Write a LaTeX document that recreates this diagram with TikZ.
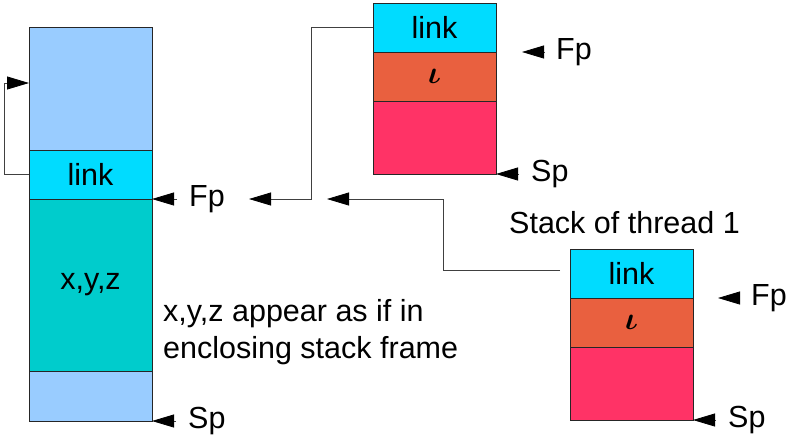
\RequirePackage{fix-cm}
\documentclass[tikz,border=0pt]{standalone}
\usepackage{fontspec}
\setmainfont{Liberation Sans}
\usepackage{tikz}
\usepackage{xcolor}
\usepackage{amsmath}
\usepackage{amsbsy}
\usetikzlibrary{positioning}
\usetikzlibrary{arrows.meta}
\definecolor{frameblue}{HTML}{99CCFF}
\definecolor{linkcyan}{HTML}{00DCFF}
\definecolor{varsteal}{HTML}{00CCCC}
\definecolor{iotaorange}{HTML}{E9603F}
\definecolor{restpink}{HTML}{FF3366}
\tikzstyle{every node}=[font=\fontsize{30.5}{37}\selectfont]
\tikzstyle{cell}=[draw=black!85, line width=0.8pt, minimum width=123pt, inner sep=0pt, outer sep=0pt]
\tikzstyle{reg}=[anchor=west, inner xsep=12pt, inner ysep=0pt]
\tikzstyle{ptr}=[-{Triangle[length=22pt,width=13pt,black]}, draw=black!75, line width=0.8pt]
\newcommand{\iotamark}{{\fontsize{32}{32}\selectfont$\boldsymbol{\iota}$}}

\begin{document}
\begin{tikzpicture}[x=1pt, y=-1pt, node distance=0pt]
    \useasboundingbox (0,0) rectangle (790,440);

    % enclosing frame
    \node[cell, fill=frameblue, minimum height=123pt, anchor=north west] (top1) at (29,27) {};
    \node[cell, fill=linkcyan,  minimum height=49pt,  below=of top1]  (link1) {link};
    \node[cell, fill=varsteal,  minimum height=172pt, below=of link1] (vars1) {x,y,z};
    \node[cell, fill=frameblue, minimum height=50pt,  below=of vars1] (bot1)  {};

    % upper thread frame
    \node[cell, fill=linkcyan,   minimum height=49pt, anchor=north west] (link2) at (373,3) {link};
    \node[cell, fill=iotaorange, minimum height=49pt, below=of link2] (iota2) {\iotamark};
    \node[cell, fill=restpink,   minimum height=73pt, below=of iota2] (rest2) {};

    % thread 1 frame
    \node[cell, fill=linkcyan,   minimum height=49pt, anchor=north west] (link3) at (570,249) {link};
    \node[cell, fill=iotaorange, minimum height=49pt, below=of link3] (iota3) {\iotamark};
    \node[cell, fill=restpink,   minimum height=73pt, below=of iota3] (rest3) {};

    % registers
    \node[reg] (fp1) at (177,199) {Fp};
    \node[reg] (sp1) at (176,421) {Sp};
    \node[reg] (fp2) at (544,52)  {Fp};
    \node[reg] (sp2) at (519,174) {Sp};
    \node[reg] (fp3) at (739,298) {Fp};
    \node[reg] (sp3) at (716,420) {Sp};
    \coordinate (fptip2) at (522,52);
    \coordinate (fptip3) at (718,298);

    \draw[ptr] (fp1.west) -- (link1.south east);
    \draw[ptr] (sp1.west) -- (bot1.south east);
    \draw[ptr] (fp2.west) -- (fptip2);
    \draw[ptr] (sp2.west) -- (rest2.south east);
    \draw[ptr] (fp3.west) -- (fptip3);
    \draw[ptr] (sp3.west) -- (rest3.south east);

    \node[anchor=west, align=left, inner sep=0pt] (note) at (163,332) {x,y,z appear as if in\\enclosing stack frame};
    \node[anchor=base west, inner sep=0pt] (title3) at (509,233) {Stack of thread 1};

    % links
    \coordinate (bend2) at (311,199);
    \coordinate (tip2)  at (249,199);
    \coordinate (bend3) at (443,199);
    \coordinate (tip3)  at (327,199);
    \draw[ptr] (link1.west) -- ++(-25,0) |- ([yshift=5.5pt]top1.west);
    \draw[ptr] (link2.west) -| (bend2) -- (tip2);
    \draw[ptr, shorten <=10pt] ([yshift=3.5pt]link3.west) -| (bend3) -- (tip3);
\end{tikzpicture}
\end{document}
